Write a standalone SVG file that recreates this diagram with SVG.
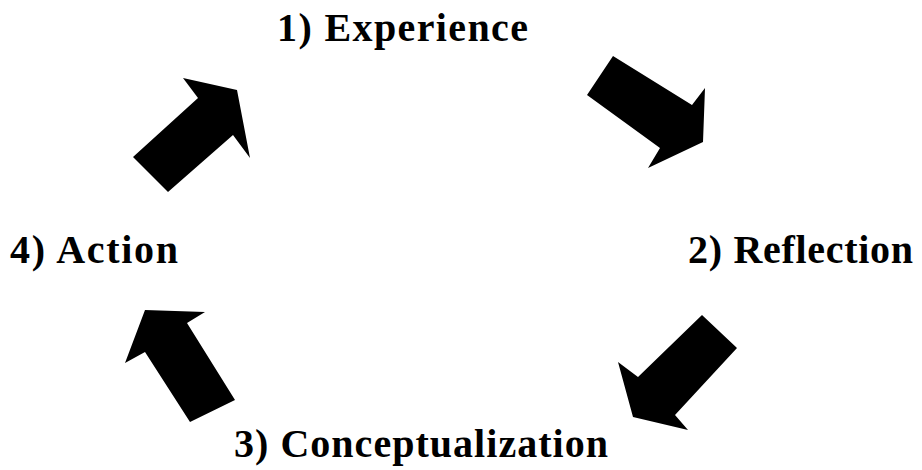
<svg xmlns="http://www.w3.org/2000/svg" width="922" height="470" viewBox="0 0 922 470">
<style>
.lbl{font-family:'Liberation Serif','Times New Roman',Times,serif;font-weight:700;font-size:40px;fill:#000}
.arr{fill:#000}
</style>
<rect width="922" height="470" fill="#fff"/>
<g id="n1"><text class="lbl" x="277" y="41" textLength="251" lengthAdjust="spacing">1) Experience</text></g>
<g id="n2"><text class="lbl" x="688" y="263" textLength="225" lengthAdjust="spacing">2) Reflection</text></g>
<g id="n3"><text class="lbl" x="234" y="457" textLength="374" lengthAdjust="spacing">3) Conceptualization</text></g>
<g id="n4"><text class="lbl" x="10" y="263" textLength="168" lengthAdjust="spacing">4) Action</text></g>
<g id="connectors">
<polygon class="arr" points="613,56 692,105 705,88 703,142 648,168 660,148 587,95"/>
<polygon class="arr" points="702,315 638,377 618,362 633,417 688,430 675,415 737,348"/>
<polygon class="arr" points="145,310 205,312 187,323 235,400 190,422 145,352 125,363"/>
<polygon class="arr" points="183,78 237,90 250,158 233,135 168,192 133,157 198,98"/>
</g>
</svg>
